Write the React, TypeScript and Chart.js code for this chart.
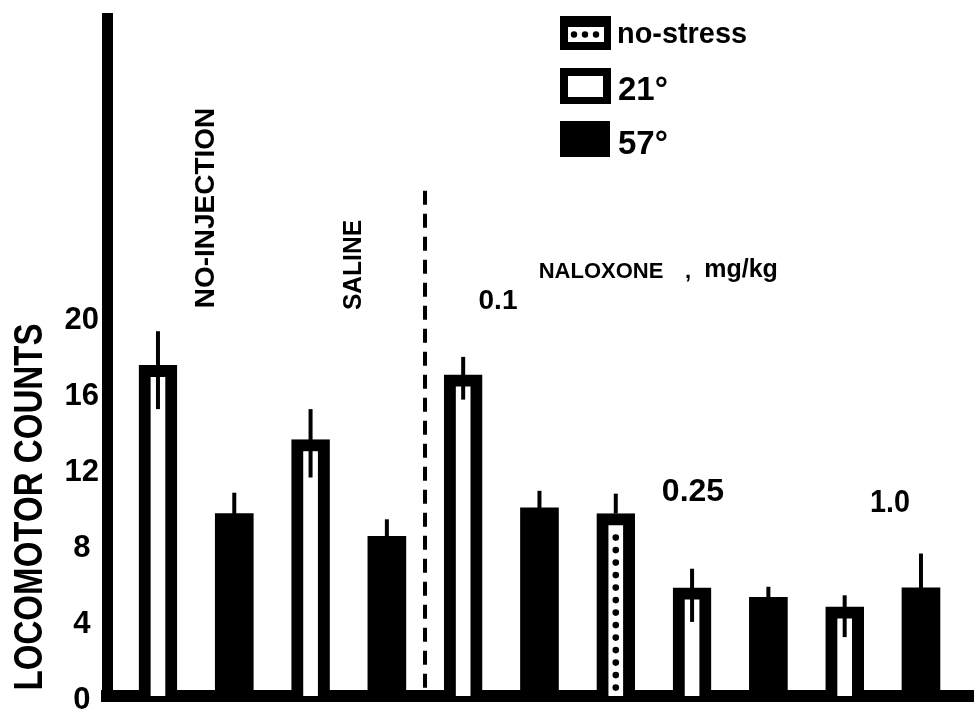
import React, { useEffect, useRef } from 'react';
import { Chart, registerables } from 'chart.js';

Chart.register(...registerables);

// ---- data ----
const barLabels = [
  'No-injection 21°', 'No-injection 57°',
  'Saline 21°', 'Saline 57°',
  'Naloxone 0.1 21°', 'Naloxone 0.1 57°', 'Naloxone 0.1 no-stress',
  'Naloxone 0.25 21°', 'Naloxone 0.25 57°',
  'Naloxone 1.0 21°', 'Naloxone 1.0 57°',
];
const barCondition = ['21', '57', '21', '57', '21', '57', 'ns', '21', '57', '21', '57'];
const meanCounts = [17.4, 9.6, 13.5, 8.4, 16.9, 9.9, 9.6, 5.7, 5.2, 4.7, 5.7];
const semUp = [1.8, 1.1, 1.6, 0.9, 0.95, 0.9, 1.05, 1.0, 0.55, 0.6, 1.8];
const semDown = [2.3, 1.1, 2.0, 0.9, 1.3, 0.9, 0, 1.8, 0.55, 1.6, 1.8];
const yTicks = [0, 4, 8, 12, 16, 20];
const legendLabels = ['no-stress', '21°', '57°'];
const groupLabels = ['NO-INJECTION', 'SALINE'];
const drugLabel = 'NALOXONE';
const unitLabel = 'mg/kg';
const doseLabels = ['0.1', '0.25', '1.0'];
const yTitle = 'LOCOMOTOR COUNTS';

const FONT = "'Liberation Sans', Arial, sans-serif";

function drawText(ctx: CanvasRenderingContext2D, text: string, cx: number, cy: number, size: number, maxW: number, rotate = false) {
  ctx.save();
  ctx.font = `bold ${size}px ${FONT}`;
  ctx.fillStyle = '#000';
  ctx.textAlign = 'center';
  ctx.textBaseline = 'alphabetic';
  ctx.translate(cx, cy);
  if (rotate) ctx.rotate(-Math.PI / 2);
  ctx.fillText(text, 0, size * 0.36, maxW);
  ctx.restore();
}

const annotate = {
  id: 'annotate',
  beforeDraw(chart: any) {
    const ctx = chart.ctx;
    ctx.save();
    ctx.fillStyle = '#fff';
    ctx.fillRect(0, 0, chart.width, chart.height);
    ctx.restore();
  },
  afterDatasetsDraw(chart: any) {
    const ctx: CanvasRenderingContext2D = chart.ctx;
    const xs = chart.scales.x;
    const ys = chart.scales.y;
    ctx.save();
    // dashed separator between saline and naloxone groups
    ctx.strokeStyle = '#000';
    ctx.lineWidth = 4;
    ctx.setLineDash([14, 9]);
    const dx = xs.getPixelForValue(3.5);
    ctx.beginPath();
    ctx.moveTo(dx, ys.getPixelForValue(26.6));
    ctx.lineTo(dx, ys.getPixelForValue(0));
    ctx.stroke();
    ctx.setLineDash([]);

    chart.data.datasets.forEach((ds: any, di: number) => {
      const meta = chart.getDatasetMeta(di);
      meta.data.forEach((el: any, j: number) => {
        const i = ds.srcIdx[j];
        const x = el.x;
        // dotted interior for no-stress bars
        if (barCondition[i] === 'ns') {
          ctx.fillStyle = '#000';
          const top = el.y + 24;
          for (let yy = top; yy < el.base - 4; yy += 12.5) {
            ctx.beginPath();
            ctx.arc(x, yy, 3.3, 0, Math.PI * 2);
            ctx.fill();
          }
        }
        // error bars
        ctx.strokeStyle = '#000';
        ctx.lineWidth = 4;
        ctx.beginPath();
        ctx.moveTo(x, ys.getPixelForValue(meanCounts[i] + semUp[i]));
        ctx.lineTo(x, ys.getPixelForValue(meanCounts[i] - semDown[i]));
        ctx.stroke();
      });
    });
    ctx.restore();
  },
  afterDraw(chart: any) {
    const ctx: CanvasRenderingContext2D = chart.ctx;
    ctx.save();
    // y axis title
    drawText(ctx, yTitle, 28, 507, 40, 367, true);
    // group labels
    drawText(ctx, groupLabels[0], 204, 208, 28, 203, true);
    drawText(ctx, groupLabels[1], 352, 265, 25, 90, true);
    // naloxone header
    drawText(ctx, drugLabel, 601, 270, 22, 132);
    drawText(ctx, ',', 688, 270, 22, 10);
    drawText(ctx, unitLabel, 741, 268, 25, 82);
    // doses
    drawText(ctx, doseLabels[0], 498, 299, 28, 43);
    drawText(ctx, doseLabels[1], 693, 489, 32, 70);
    drawText(ctx, doseLabels[2], 890, 500, 32, 40);

    // legend
    ctx.fillStyle = '#000';
    ctx.fillRect(560, 16, 51, 34);
    ctx.fillStyle = '#fff';
    ctx.fillRect(568, 27, 36, 15);
    ctx.fillStyle = '#000';
    [574, 585, 596].forEach((px) => {
      ctx.beginPath();
      ctx.arc(px, 34.5, 3.2, 0, Math.PI * 2);
      ctx.fill();
    });
    ctx.fillRect(560, 68, 51, 36);
    ctx.fillStyle = '#fff';
    ctx.fillRect(568, 76, 35, 21);
    ctx.fillStyle = '#000';
    ctx.fillRect(560, 121, 50, 36);

    ctx.textAlign = 'left';
    ctx.textBaseline = 'alphabetic';
    ctx.font = `bold 30px ${FONT}`;
    ctx.fillText(legendLabels[0], 617, 43, 130);
    ctx.font = `bold 33px ${FONT}`;
    ctx.fillText(legendLabels[1], 618, 100, 56);
    ctx.fillText(legendLabels[2], 618, 154, 56);
    ctx.restore();
  },
};

export default function App() {
  const ref = useRef<HTMLCanvasElement>(null);

  useEffect(() => {
    if (!ref.current) return;
    const conds = ['ns', '21', '57'];
    const names: Record<string, string> = { ns: 'no-stress', '21': '21°', '57': '57°' };
    const datasets = conds.map((cond) => {
      const idx = barCondition.map((c, i) => (c === cond ? i : -1)).filter((i) => i >= 0);
      return {
        label: names[cond],
        data: idx.map((i) => ({ x: i, y: meanCounts[i], name: barLabels[i] })),
        srcIdx: idx,
        backgroundColor: cond === '57' ? '#000' : '#fff',
        borderColor: '#000',
        borderWidth: cond === '57' ? 0 : 12,
        borderSkipped: 'bottom',
        barThickness: 38,
        grouped: false,
      } as any;
    });

    const chart = new Chart(ref.current, {
      type: 'bar',
      data: { datasets },
      options: {
        animation: false,
        responsive: false,
        events: [],
        layout: { padding: { top: 18.5, left: 0, right: 0, bottom: 0 } },
        plugins: { legend: { display: false }, tooltip: { enabled: false } },
        scales: {
          x: {
            type: 'linear',
            min: -0.668,
            max: 10.695,
            offset: false,
            z: 1,
            grid: { display: false, drawTicks: false },
            ticks: { display: false },
            border: { display: true, width: 12, color: '#000' },
            afterFit: (s: any) => {
              s.height = 15;
              s.paddingLeft = 0;
              s.paddingRight = 0;
            },
          },
          y: {
            type: 'linear',
            min: 0,
            max: 35.66,
            z: 1,
            grid: { display: false, drawTicks: false },
            border: { display: true, width: 11, color: '#000' },
            ticks: {
              color: '#000',
              font: { family: FONT, weight: 'bold', size: 31 },
              crossAlign: 'center',
              padding: 8,
              labelOffset: 4,
            },
            afterBuildTicks: (s: any) => {
              s.ticks = yTicks.map((v) => ({ value: v }));
            },
            afterFit: (s: any) => {
              s.width = 107;
              s.paddingTop = 0;
              s.paddingBottom = 0;
            },
          },
        },
      } as any,
      plugins: [annotate],
    });
    return () => chart.destroy();
  }, []);

  return (
    <div style={{ position: 'fixed', left: 0, top: 0, width: 974, height: 711, background: '#fff' }}>
      <canvas ref={ref} width={974} height={711} style={{ display: 'block' }} />
    </div>
  );
}
